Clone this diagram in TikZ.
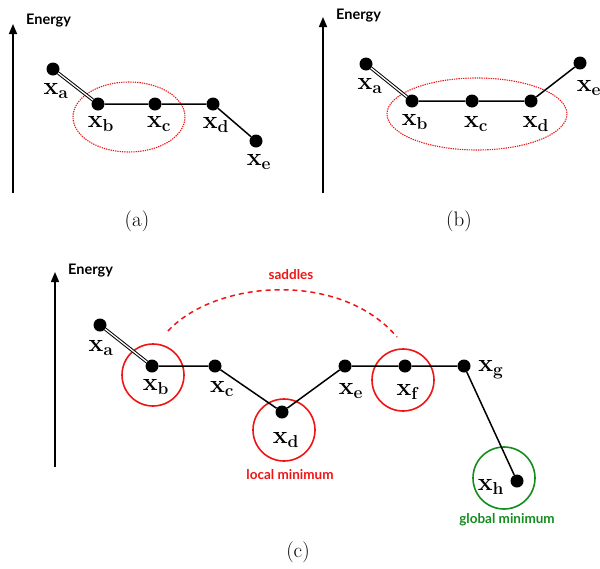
\documentclass[tikz,border=0pt]{standalone}
\usepackage{fontspec}
\newfontfamily\lab{Lato}
\usetikzlibrary{arrows.meta}
\definecolor{redc}{RGB}{240,20,20}
\definecolor{greenc}{RGB}{20,140,30}
\begin{document}
\begin{tikzpicture}[x=1pt,y=-1pt,
  pt/.style={circle,fill=black,inner sep=0pt,minimum size=13pt},
  xl/.style={inner sep=0pt,font=\fontsize{24}{28}\selectfont\boldmath},
  axis/.style={line width=1.5pt,-{Triangle[length=10pt,width=8pt]}},
  elabel/.style={inner sep=0pt,font=\lab\bfseries\fontsize{14.5}{16}\selectfont},
  edge/.style={line width=1.5pt},
  dbl/.style={double,double distance=1.3pt,line width=1pt},
  captxt/.style={inner sep=0pt,font=\fontsize{21}{24}\selectfont},
  redring/.style={draw=redc,line width=1.6pt,circle,minimum size=62pt,inner sep=0pt},
  greenring/.style={draw=greenc,line width=1.6pt,circle,minimum size=62pt,inner sep=0pt},
  rlab/.style={inner sep=0pt,text=redc,font=\lab\bfseries\fontsize{13.5}{15}\selectfont},
  glab/.style={inner sep=0pt,text=greenc,font=\lab\bfseries\fontsize{13.5}{15}\selectfont}]
\useasboundingbox (0,0) rectangle (600,568);
% ---------- (a)
\coordinate (aA0) at (13,193); \coordinate (aA1) at (13,24);
\draw[axis] (aA0) -- (aA1);
\node[elabel,anchor=west] (aE) at (26,21) {Energy};
\draw[redc,line width=1.1pt,dash pattern=on 1.3pt off 1pt] (129,117) ellipse [x radius=56, y radius=35];
\node[pt] (aa) at (53,69) {};
\node[pt] (ab) at (98,104) {};
\node[pt] (ac) at (155,104) {};
\node[pt] (ad) at (213,104) {};
\node[pt] (ae) at (256,141) {};
\draw[dbl] (aa) -- (ab);
\draw[edge] (ab) -- (ac) -- (ad) -- (ae);
\node[xl] (laa) at (56,91) {$\mathbf{x}_{\mathbf{a}}$};
\node[xl] (lab) at (101,124) {$\mathbf{x}_{\mathbf{b}}$};
\node[xl] (lac) at (159,124) {$\mathbf{x}_{\mathbf{c}}$};
\node[xl] (lad) at (216,125) {$\mathbf{x}_{\mathbf{d}}$};
\node[xl] (lae) at (259,162) {$\mathbf{x}_{\mathbf{e}}$};
\node[captxt] (capa) at (137,221) {(a)};
% ---------- (b)
\coordinate (bA0) at (323,193); \coordinate (bA1) at (323,17);
\draw[axis] (bA0) -- (bA1);
\node[elabel,anchor=west] (bE) at (336,16) {Energy};
\draw[redc,line width=1.1pt,dash pattern=on 1.3pt off 1pt] (477,114) ellipse [x radius=90, y radius=36];
\node[pt] (ba) at (366,64) {};
\node[pt] (bb) at (412,101) {};
\node[pt] (bc) at (472,101) {};
\node[pt] (bd) at (531,101) {};
\node[pt] (be) at (580,63) {};
\draw[dbl] (ba) -- (bb);
\draw[edge] (bb) -- (bc) -- (bd) -- (be);
\node[xl] (lba) at (370,86) {$\mathbf{x}_{\mathbf{a}}$};
\node[xl] (lbb) at (415,122) {$\mathbf{x}_{\mathbf{b}}$};
\node[xl] (lbc) at (476,124) {$\mathbf{x}_{\mathbf{c}}$};
\node[xl] (lbd) at (536,124) {$\mathbf{x}_{\mathbf{d}}$};
\node[xl] (lbe) at (589,88) {$\mathbf{x}_{\mathbf{e}}$};
\node[captxt] (capb) at (459,221) {(b)};
% ---------- (c)
\coordinate (cA0) at (55,467); \coordinate (cA1) at (55,272);
\draw[axis] (cA0) -- (cA1);
\node[elabel,anchor=west] (cE) at (68,271) {Energy};
\node[redring] (rb) at (153,375) {};
\node[redring] (rd) at (284,430) {};
\node[redring] (rf) at (403,380) {};
\node[greenring] (gh) at (504,478) {};
\node[pt] (ca) at (100,325) {};
\node[pt] (cb) at (152,366) {};
\node[pt] (cc) at (215,366) {};
\node[pt] (cd) at (282,412) {};
\node[pt] (ce) at (345,366) {};
\node[pt] (cf) at (405,366) {};
\node[pt] (cg) at (464,366) {};
\node[pt] (ch) at (517,481) {};
\draw[dbl] (ca) -- (cb);
\draw[edge] (cb) -- (cc) -- (cd) -- (ce) -- (cf) -- (cg) -- (ch);
\node[xl] (lca) at (101,348) {$\mathbf{x}_{\mathbf{a}}$};
\node[xl] (lcb) at (156,387) {$\mathbf{x}_{\mathbf{b}}$};
\node[xl] (lcc) at (222,389) {$\mathbf{x}_{\mathbf{c}}$};
\node[xl] (lcd) at (286,440) {$\mathbf{x}_{\mathbf{d}}$};
\node[xl] (lce) at (351,391) {$\mathbf{x}_{\mathbf{e}}$};
\node[xl] (lcf) at (408,392) {$\mathbf{x}_{\mathbf{f}}$};
\node[xl] (lcg) at (491,370) {$\mathbf{x}_{\mathbf{g}}$};
\node[xl] (lch) at (491,487) {$\mathbf{x}_{\mathbf{h}}$};
\node[rlab] (sad) at (291,275) {saddles};
\node[rlab] (locm) at (290,475) {local minimum};
\node[glab] (glom) at (507,520) {global minimum};
\coordinate (s0) at (168,331);
\coordinate (s1) at (397,337);
\draw[redc,line width=1.5pt,dash pattern=on 5pt off 4pt] (s0) .. controls (215,280) and (340,270) .. (s1);
\node[captxt] (capc) at (298,552) {(c)};
\end{tikzpicture}
\end{document}
